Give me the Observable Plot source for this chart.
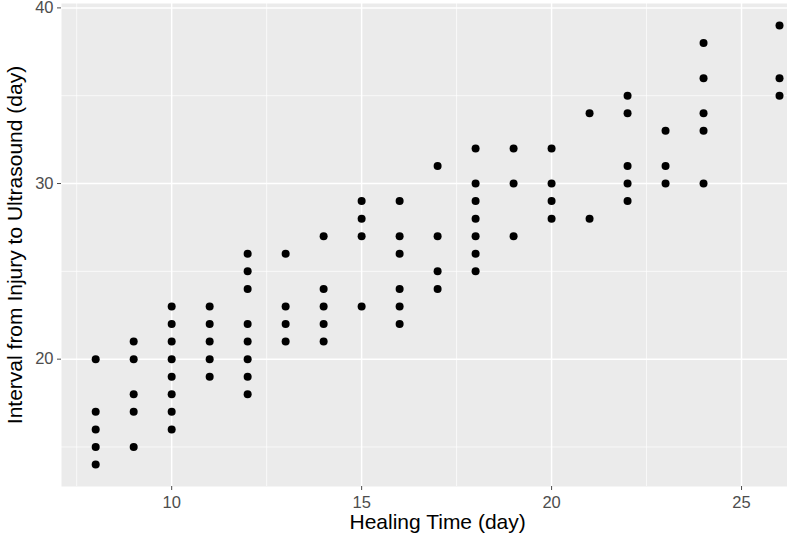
<!DOCTYPE html>
<html>
<head>
<meta charset="utf-8">
<script src="https://cdn.jsdelivr.net/npm/d3@7"></script>
<script src="https://cdn.jsdelivr.net/npm/@observablehq/plot@0.6"></script>
<style>
  html, body { margin: 0; padding: 0; background: #ffffff; }
  #chart { width: 787px; height: 540px; overflow: hidden; }
</style>
</head>
<body>
<div id="chart"></div>
<script>
// Healing time (x) and the interval values observed at each healing time (y)
const healingDays = [8, 9, 10, 11, 12, 13, 14, 15, 16, 17, 18, 19, 20, 21, 22, 23, 24, 26];
const intervalsByDay = [
  [20, 17, 16, 15, 14],
  [21, 20, 18, 17, 15],
  [23, 22, 21, 20, 19, 18, 17, 16],
  [23, 22, 21, 20, 19],
  [26, 25, 24, 22, 21, 20, 19, 18],
  [26, 23, 22, 21],
  [27, 24, 23, 22, 21],
  [29, 28, 27, 23],
  [29, 27, 26, 24, 23, 22],
  [31, 27, 25, 24],
  [32, 30, 29, 28, 27, 26, 25],
  [32, 30, 27],
  [32, 30, 29, 28],
  [34, 28],
  [35, 34, 31, 30, 29],
  [33, 31, 30],
  [38, 36, 34, 33, 30],
  [39, 36, 35]
];
const xTicks = [10, 15, 20, 25];
const xMinor = [7.5, 12.5, 17.5, 22.5];
const yTicks = [20, 30, 40];
const yMinor = [15, 25, 35];
const xTitle = "Healing Time (day)";
const yTitle = "Interval from Injury to Ultrasound (day)";

const points = healingDays.flatMap((d, i) => intervalsByDay[i].map(v => ({healing: d, interval: v})));

const chart = Plot.plot({
  width: 787,
  height: 540,
  marginLeft: 61,
  marginRight: 0,
  marginTop: 3,
  marginBottom: 54,
  style: {background: "#ffffff", fontFamily: "'Liberation Sans', Arial, Helvetica, sans-serif", overflow: "visible"},
  x: {domain: [7.1, 26.21]},
  y: {domain: [12.75, 40.25]},
  marks: [
    Plot.frame({fill: "#ebebeb", stroke: null}),
    Plot.ruleX(xMinor, {stroke: "#ffffff", strokeWidth: 0.7}),
    Plot.ruleY(yMinor, {stroke: "#ffffff", strokeWidth: 0.7}),
    Plot.ruleX(xTicks, {stroke: "#ffffff", strokeWidth: 1.5}),
    Plot.ruleY(yTicks, {stroke: "#ffffff", strokeWidth: 1.5}),
    Plot.dot(points, {x: "healing", y: "interval", r: 4, fill: "#000000", stroke: null}),
    Plot.axisX(xTicks, {tickSize: 4, tickPadding: 6, fontSize: 16.5, color: "#4d4d4d", label: null}),
    Plot.axisY(yTicks, {tickSize: 4, tickPadding: 4, fontSize: 16.5, color: "#4d4d4d", label: null}),
    Plot.text([xTitle], {x: () => 17, frameAnchor: "bottom", dy: 42, text: d => d, fontSize: 21, fill: "#000000"}),
    Plot.text([yTitle], {frameAnchor: "left", dx: -46, rotate: -90, textAnchor: "middle", text: d => d, fontSize: 21, fill: "#000000"})
  ]
});
document.getElementById("chart").appendChild(chart);
</script>
</body>
</html>
